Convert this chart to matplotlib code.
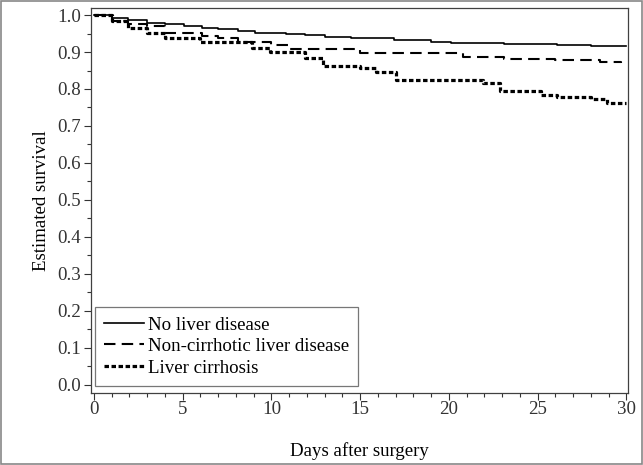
import matplotlib
matplotlib.use("Agg")
import matplotlib.pyplot as plt
from matplotlib.patches import Rectangle
from matplotlib.ticker import MultipleLocator

# Kaplan-Meier step points (day, survival)
none_days = [0, 1.0, 1.9, 3.0, 4.0, 5.1, 6.1, 7.0, 8.1, 9.1, 10.8, 11.9, 13.0,
             14.5, 16.9, 19.0, 20.1, 23.1, 24.0, 26.1, 28.0, 30.0]
none_surv = [1.0, 0.993, 0.986, 0.979, 0.975, 0.970, 0.966, 0.961, 0.957, 0.952,
             0.949, 0.945, 0.940, 0.937, 0.932, 0.928, 0.925, 0.923, 0.921,
             0.919, 0.916, 0.916]

noncirr_days = [0, 1.0, 1.9, 3.0, 4.0, 6.1, 7.0, 8.1, 10.0, 11.0, 15.0, 20.8,
                23.1, 26.0, 28.5, 29.7]
noncirr_surv = [1.0, 0.985, 0.975, 0.970, 0.951, 0.943, 0.937, 0.928, 0.919,
                0.908, 0.896, 0.887, 0.882, 0.878, 0.872, 0.870]

cirr_days = [0, 1.0, 1.9, 3.0, 4.0, 6.0, 8.9, 9.9, 11.9, 12.9, 15.0, 15.9, 17.0,
             21.9, 22.9, 25.2, 26.1, 28.0, 28.9, 30.0]
cirr_surv = [1.0, 0.984, 0.964, 0.951, 0.937, 0.928, 0.910, 0.901, 0.883, 0.863,
             0.857, 0.847, 0.824, 0.815, 0.795, 0.784, 0.779, 0.773, 0.761, 0.761]

labels = ["No liver disease", "Non-cirrhotic liver disease", "Liver cirrhosis"]

plt.rcParams['font.family'] = ['Liberation Serif', 'DejaVu Serif']
fs = 13.6

fig = plt.figure(figsize=(6.43, 4.65), dpi=100)
ax = fig.add_axes([0.1415, 0.1548, 0.8352, 0.828])

ax.step(none_days, none_surv, where='post', color='black', lw=1.2,
        label=labels[0])
ax.step(noncirr_days, noncirr_surv, where='post', color='black', lw=1.5,
        linestyle=(0, (5.5, 3)), label=labels[1])
ax.step(cirr_days, cirr_surv, where='post', color='black', lw=2.3,
        linestyle=(0, (1.4, 0.8)), label=labels[2])

ax.set_xlim(-0.17, 30.1)
ax.set_ylim(-0.022, 1.019)
ax.xaxis.set_major_locator(MultipleLocator(5))
ax.xaxis.set_minor_locator(MultipleLocator(1))
ax.yaxis.set_major_locator(MultipleLocator(0.1))
ax.yaxis.set_minor_locator(MultipleLocator(0.05))
ax.set_yticks([i / 10 for i in range(11)])
ax.set_yticklabels([f"{i / 10:.1f}" for i in range(11)])
ax.tick_params(which='major', direction='out', length=5, width=0.8, pad=2,
               labelsize=fs, colors='#333333')
ax.tick_params(which='minor', direction='out', length=3, width=0.8,
               colors='#333333')
ax.tick_params(axis='x', which='major', pad=1)
for sp in ax.spines.values():
    sp.set_color('#404040')
    sp.set_linewidth(0.9)

ax.set_xlabel("Days after surgery", fontsize=fs, labelpad=17)
ax.set_ylabel("Estimated survival", fontsize=fs, labelpad=5)

leg = ax.legend(loc='lower left', bbox_to_anchor=(0.007, 0.018),
                borderaxespad=0, fancybox=False, frameon=True,
                handlelength=2.1, handletextpad=0.2, labelspacing=0.23,
                borderpad=0.5, fontsize=fs)
leg.get_frame().set_edgecolor('#555555')
leg.get_frame().set_linewidth(0.9)

# thin grey border round the whole picture
fig.patches.append(Rectangle((0.001, 0.002), 0.997, 0.996, transform=fig.transFigure,
                             fill=False, edgecolor='#888888', lw=1.2))

fig.savefig("out.png", dpi=100)
